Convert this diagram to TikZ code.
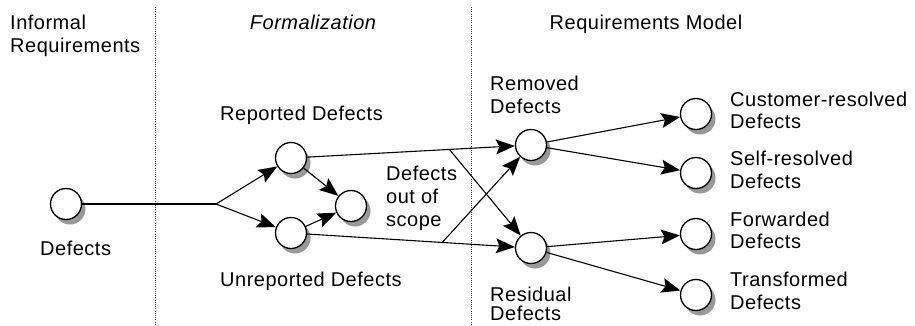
\documentclass[tikz,border=0pt]{standalone}
\usepackage{fontspec}
\setmainfont[LetterSpace=2.5]{Liberation Sans}
\usetikzlibrary{arrows.meta,shadows,calc}
\begin{document}
\begin{tikzpicture}[x=1pt,y=-1pt,
  state/.style={circle,draw,fill=white,line width=1.3pt,minimum size=31pt,inner sep=0pt,
     drop shadow={shadow xshift=4pt,shadow yshift=-5pt,fill=black!40,opacity=1}},
  lbl/.style={anchor=base west,inner sep=0pt,font=\fontsize{20}{23}\selectfont},
  hdr/.style={anchor=base,inner sep=0pt,font=\fontsize{20}{23}\selectfont},
  edge/.style={line width=1.1pt},
  arr/.style={edge,arrows={-Stealth[length=19pt,width=15pt,inset=3.5pt,line width=0pt]}},
  divider/.style={line width=0.8pt,dash pattern=on 1pt off 1.2pt,black!80}]
\useasboundingbox[fill=white] (0,0) rectangle (915,325);

% dividers
\coordinate (v1t) at (155,7); \coordinate (v1b) at (155,325);
\coordinate (v2t) at (471,7); \coordinate (v2b) at (471,325);
\draw[divider] (v1t) -- (v1b);
\draw[divider] (v2t) -- (v2b);

% headers
\node[lbl] (h1a) at (10,29) {Informal};
\node[lbl] (h1b) at (10,52) {Requirements};
\node[hdr,font=\fontsize{20}{23}\selectfont\itshape] (h2) at (313,29) {Formalization};
\node[hdr] (h3) at (646,29) {Requirements Model};

% states
\node[state] (d) at (66,204) {};
\node[state] (rep) at (291,158) {};
\node[state] (unr) at (291,233) {};
\node[state] (mid) at (351,206) {};
\node[state] (rem) at (531,145) {};
\node[state] (res) at (531,248) {};
\node[state] (cr) at (696,114) {};
\node[state] (sr) at (696,173) {};
\node[state] (fw) at (696,234) {};
\node[state] (tr) at (696,295) {};

% labels
\node[lbl] (ld) at (40,255) {Defects};
\node[lbl] (lrep) at (220,120) {Reported Defects};
\node[lbl] (lunr) at (220,286) {Unreported Defects};
\node[lbl] (los1) at (386,180) {Defects};
\node[lbl] (los2) at (386,203) {out of};
\node[lbl] (los3) at (386,226) {scope};
\node[lbl] (lrem1) at (490,90) {Removed};
\node[lbl] (lrem2) at (490,113) {Defects};
\node[lbl] (lres1) at (490,301) {Residual};
\node[lbl] (lres2) at (490,320) {Defects};
\node[lbl] (lcr1) at (730,106) {Customer-resolved};
\node[lbl] (lcr2) at (730,128) {Defects};
\node[lbl] (lsr1) at (730,165) {Self-resolved};
\node[lbl] (lsr2) at (730,188) {Defects};
\node[lbl] (lfw1) at (730,226) {Forwarded};
\node[lbl] (lfw2) at (730,248) {Defects};
\node[lbl] (ltr1) at (730,286) {Transformed};
\node[lbl] (ltr2) at (730,309) {Defects};

% connectors
\coordinate (br) at (216,204);
\draw[edge] (d) -- (br);
\draw[arr] (br) -- (rep);
\draw[arr] (br) -- (unr);
\draw[arr] (rep) -- (mid);
\draw[arr] (unr) -- (mid);
\draw[arr] (rep) -- (rem);
\draw[arr] (unr) -- (res);
\coordinate (x1) at ($(rep)!0.66!(rem)$);
\coordinate (x2) at ($(unr)!0.63!(res)$);
\draw[arr] (x1) -- (res);
\draw[arr] (x2) -- (rem);
\draw[arr] (rem) -- (cr);
\draw[arr] (rem) -- (sr);
\draw[arr] (res) -- (fw);
\draw[arr] (res) -- (tr);
\end{tikzpicture}
\end{document}
